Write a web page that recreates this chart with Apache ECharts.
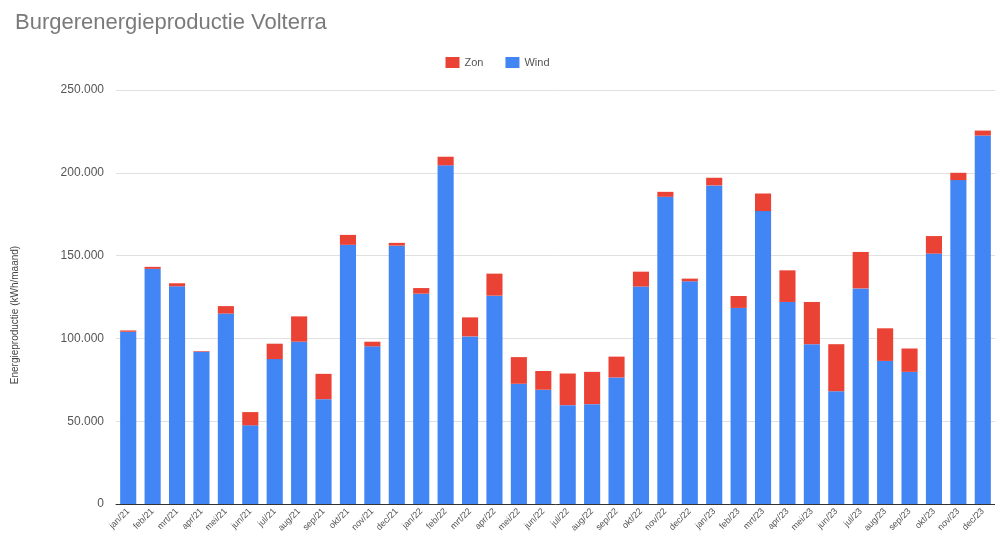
<!DOCTYPE html>
<html>
<head>
<meta charset="utf-8">
<script src="https://cdn.jsdelivr.net/npm/echarts@6/dist/echarts.min.js"></script>
<style>
  html, body { margin: 0; padding: 0; background: #fff; }
  #chart { width: 995px; height: 548px; }
</style>
</head>
<body>
<div id="chart"></div>
<script>
// maanden
var maanden = [
  'jan/21', 'feb/21', 'mrt/21', 'apr/21', 'mei/21', 'jun/21', 'jul/21', 'aug/21', 'sep/21', 'okt/21', 'nov/21', 'dec/21',
  'jan/22', 'feb/22', 'mrt/22', 'apr/22', 'mei/22', 'jun/22', 'jul/22', 'aug/22', 'sep/22', 'okt/22', 'nov/22', 'dec/22',
  'jan/23', 'feb/23', 'mrt/23', 'apr/23', 'mei/23', 'jun/23', 'jul/23', 'aug/23', 'sep/23', 'okt/23', 'nov/23', 'dec/23'
]

// windenergie (kWh/maand)
var wind = [
  104000, 142000, 131500, 92000, 115000, 47500, 87500, 98000, 63300, 156500, 95200, 156000,
  127000, 204500, 101200, 125800, 72600, 69000, 59700, 60300, 76400, 131300, 185500, 134500,
  192400, 118400, 176900, 122000, 96500, 68100, 130200, 86400, 79800, 151200, 195600, 222500
]

// zonne-energie (kWh/maand)
var zon = [
  800, 1200, 1800, 400, 4500, 8000, 9300, 15300, 15300, 6000, 2800, 1700,
  3400, 5200, 11500, 13300, 16100, 11300, 19100, 19500, 12600, 9000, 3000, 1600,
  4600, 7200, 10600, 19100, 25500, 28400, 22000, 19700, 14100, 10600, 4400, 3000
]

var chart = echarts.init(document.getElementById('chart'))

// getal met punt als duizendtal-scheiding
function nlFormat(v) {
  return String(v).replace(/\B(?=(\d{3})+(?!\d))/g, '.')
}

var option = {
  animation: false,
  textStyle: { fontFamily: 'Liberation Sans, Arial, sans-serif' },
  title: {
    text: 'Burgerenergieproductie Volterra',
    left: 10,
    top: 7,
    textStyle: { color: '#7a7a7a', fontSize: 22, fontWeight: 'normal' }
  },
  legend: {
    data: ['Zon', 'Wind'],
    top: 52,
    left: 'center',
    itemWidth: 14,
    itemHeight: 11,
    itemGap: 22,
    icon: 'rect',
    textStyle: { color: '#555', fontSize: 11 }
  },
  grid: {
    left: 116,
    right: -6,
    top: 90,
    bottom: 44
  },
  xAxis: {
    type: 'category',
    data: maanden,
    axisTick: { show: false },
    axisLine: { lineStyle: { color: '#333' } },
    axisLabel: {
      rotate: 45,
      interval: 0,
      fontSize: 9,
      color: '#555',
      margin: 6
    }
  },
  yAxis: {
    type: 'value',
    min: 0,
    max: 250000,
    interval: 50000,
    name: 'Energieproductie (kWh/maand)',
    nameLocation: 'middle',
    nameGap: 96,
    nameTextStyle: { color: '#444', fontSize: 10, padding: [0, 36, 0, 0] },
    axisLine: { show: false },
    axisTick: { show: false },
    axisLabel: {
      color: '#555',
      fontSize: 12,
      margin: 12,
      formatter: nlFormat
    },
    splitLine: { lineStyle: { color: '#e0e0e0' } }
  },
  series: [
    {
      name: 'Wind',
      type: 'bar',
      stack: 'totaal',
      data: wind,
      barCategoryGap: '34%',
      itemStyle: { color: '#4285F4' }
    },
    {
      name: 'Zon',
      type: 'bar',
      stack: 'totaal',
      data: zon,
      itemStyle: { color: '#EA4335' }
    }
  ]
}

chart.setOption(option)
window.addEventListener('resize', chart.resize)
</script>
</body>
</html>
